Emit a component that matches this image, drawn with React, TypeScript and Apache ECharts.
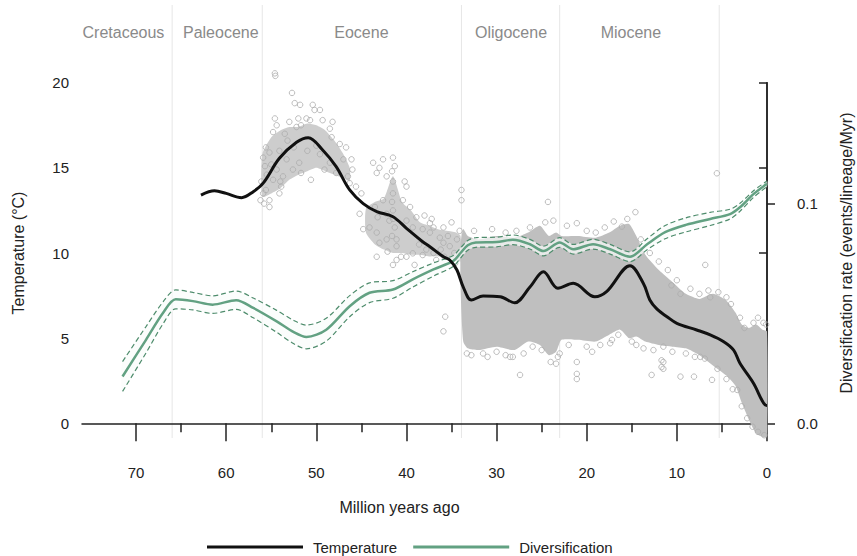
import { useEffect, useRef } from "react";
import * as echarts from "echarts";

// ---------- data ----------
const tempTime = [62.8, 61.3, 60.0, 58.3, 57.0, 55.9, 54.1, 52.2, 50.9, 49.3, 47.8, 46.3, 44.8, 43.3, 41.5, 40.0, 38.2, 37.4, 35.9, 35.2, 34.4, 33.7, 32.8, 31.5, 29.6, 28.0, 26.3, 24.8, 23.2, 21.5, 19.1, 17.8, 15.2, 13.7, 13.0, 12.2, 11.1, 10.0, 7.8, 6.3, 4.8, 3.7, 3.0, 1.5, 0.2, 0.0];
const tempValue = [13.4, 13.65, 13.5, 13.25, 13.6, 14.1, 15.56, 16.5, 16.77, 16.05, 15.07, 13.7, 12.9, 12.43, 12.13, 11.45, 10.66, 10.37, 9.78, 9.59, 9.0, 8.0, 7.24, 7.47, 7.43, 7.08, 8.0, 8.9, 7.93, 8.22, 7.43, 7.73, 9.25, 8.2, 7.24, 6.7, 6.26, 5.87, 5.48, 5.19, 4.79, 4.3, 3.52, 2.35, 1.07, 1.05];

const divTime = [71.5, 68.9, 67.0, 65.6, 63.7, 61.5, 58.9, 57.0, 54.4, 52.5, 51.1, 48.9, 46.3, 44.1, 41.5, 39.3, 37.0, 34.8, 34.0, 33.2, 32.3, 30.0, 28.2, 26.3, 24.8, 23.0, 21.5, 19.3, 17.4, 15.2, 13.3, 11.3, 9.0, 6.3, 4.1, 3.0, 1.5, 0.0];
const divMid = [0.0213, 0.038, 0.0503, 0.0564, 0.0556, 0.054, 0.056, 0.0525, 0.0464, 0.0415, 0.0393, 0.0426, 0.0533, 0.0594, 0.0609, 0.0655, 0.07, 0.0739, 0.0775, 0.081, 0.0823, 0.0825, 0.0835, 0.0815, 0.0784, 0.0823, 0.0792, 0.0815, 0.0792, 0.0758, 0.0815, 0.087, 0.0903, 0.093, 0.0952, 0.0983, 0.1043, 0.109];
const divLow = [0.0145, 0.032, 0.0453, 0.0521, 0.0516, 0.05, 0.0518, 0.048, 0.0414, 0.0362, 0.0339, 0.0374, 0.0485, 0.0549, 0.0569, 0.062, 0.067, 0.0714, 0.0752, 0.0788, 0.0801, 0.0803, 0.0813, 0.0793, 0.0762, 0.0801, 0.077, 0.0793, 0.077, 0.0736, 0.079, 0.084, 0.0871, 0.09, 0.093, 0.0965, 0.1028, 0.1077];
const divHigh = [0.0281, 0.044, 0.0553, 0.0607, 0.0596, 0.058, 0.0602, 0.057, 0.0514, 0.0468, 0.0447, 0.0478, 0.0581, 0.0639, 0.0649, 0.069, 0.073, 0.0764, 0.0798, 0.0832, 0.0845, 0.0847, 0.0857, 0.0837, 0.0806, 0.0845, 0.0814, 0.0837, 0.0814, 0.078, 0.084, 0.09, 0.0935, 0.096, 0.0974, 0.1001, 0.1058, 0.1103];

// dense part of the isotope cloud (Oligocene to present)
const denseTime = [34.0, 33.7, 33.2, 32, 30, 28, 26.5, 25.2, 24.2, 23.4, 22.8, 21, 19, 17.5, 16.3, 15.3, 14.5, 13.5, 12, 10.5, 9, 7.5, 6, 4.5, 3.5, 2.8, 2, 1.2, 0.5, 0];
const denseTop = [10.5, 11.4, 11.0, 10.8, 11.0, 10.9, 11.2, 11.6, 11.0, 11.2, 11.0, 11.0, 10.9, 11.2, 11.6, 11.7, 11.0, 9.9, 9.0, 8.3, 7.6, 7.3, 7.6, 7.2, 6.5, 5.8, 5.6, 5.8, 5.5, 5.4];
const denseBottom = [8.0, 4.8, 4.4, 4.3, 4.5, 4.3, 4.8, 4.6, 4.0, 4.2, 4.9, 4.9, 4.8, 5.2, 5.5, 5.0, 5.1, 4.8, 4.6, 4.5, 4.4, 4.0, 3.4, 2.8, 2.2, 1.2, 0.2, -0.6, -0.8, -0.8];

// Eocene cores
const coreATime = [56.0, 55.0, 54.0, 53.0, 52.0, 51.0, 50.0, 49.0, 48.0, 47.0, 46.3];
const coreATop = [15.8, 16.8, 17.2, 17.4, 17.4, 17.6, 17.5, 17.2, 16.6, 15.8, 15.0];
const coreABottom = [13.3, 13.5, 13.8, 14.3, 14.6, 14.8, 15.0, 14.8, 14.6, 14.4, 14.2];
const coreBTime = [44.5, 43.5, 42.5, 41.5, 40.5, 39.5, 38.5, 37.5, 36.5, 35.5, 34.5, 34.0];
const coreBTop = [12.6, 13.0, 13.2, 14.5, 13.0, 12.5, 11.8, 11.6, 11.4, 11.3, 11.2, 11.0];
const coreBBottom = [11.2, 10.5, 10.2, 10.0, 10.0, 9.9, 9.9, 9.8, 9.8, 9.7, 9.6, 9.5];

const isotopePoints: number[][] = [
  [54.6, 20.55], [54.55, 20.4], [52.7, 19.4], [52.4, 18.8], [51.8, 18.7], [50.4, 18.7], [50.2, 18.4], [49.6, 18.4],
  [51.1, 17.9], [50.7, 17.8], [49.3, 17.8], [48.2, 17.7], [54.6, 17.9], [54.4, 17.5], [54.8, 17.1], [53.0, 17.7],
  [52.2, 17.4], [51.7, 17.5], [48.5, 17.3], [48.3, 16.8], [47.4, 16.4], [46.7, 16.2], [55.6, 16.2], [55.9, 15.6],
  [55.7, 15.1], [55.2, 15.9], [54.1, 16.0], [53.3, 15.5], [54.4, 14.9], [53.7, 14.5], [54.8, 14.3], [55.9, 13.5],
  [55.6, 13.7], [55.2, 13.1], [55.2, 12.7], [54.1, 13.5], [53.9, 13.9], [52.6, 14.9], [51.9, 15.3], [51.7, 14.7],
  [50.6, 14.3], [49.6, 15.8], [49.1, 14.9], [48.5, 15.3], [47.8, 14.7], [47.0, 15.5], [46.1, 15.5], [46.5, 14.5],
  [46.0, 14.9], [46.3, 14.1], [45.6, 13.9], [45.0, 13.5], [45.2, 12.3], [44.8, 11.4], [44.1, 11.5], [43.7, 15.3],
  [43.0, 15.0], [42.6, 15.5], [43.3, 14.7], [41.5, 15.6], [41.3, 15.1], [42.2, 14.5], [43.5, 12.7], [42.6, 13.1],
  [42.2, 12.3], [41.9, 11.9], [43.2, 12.1], [43.3, 11.2], [43.0, 10.6], [42.2, 10.8], [41.5, 13.5], [41.5, 12.5],
  [41.3, 11.5], [41.1, 10.8], [41.1, 10.4], [40.4, 13.1], [39.6, 12.7], [40.0, 13.9], [40.2, 14.2], [40.0, 11.9],
  [39.3, 11.5], [38.9, 12.1], [38.2, 11.4], [37.4, 11.2], [37.0, 11.5], [35.9, 11.5], [36.3, 10.9], [35.9, 10.6],
  [35.2, 10.4], [34.4, 10.8], [34.1, 11.3], [33.9, 13.7], [33.9, 13.1],
  [43.3, 9.78], [42.1, 10.08], [41.1, 9.59], [40.6, 9.78], [40.0, 9.78], [39.3, 9.98], [39.1, 9.3], [38.2, 9.88],
  [36.7, 9.59], [35.8, 9.78],
  [56.1, 14.2], [55.5, 14.6], [55.0, 15.2], [54.0, 14.2], [53.2, 16.6], [52.5, 16.2], [51.0, 16.0], [50.0, 16.3],
  [53.5, 17.0], [52.0, 17.9], [56.2, 13.1], [55.8, 12.9],
  [41.6, 14.8], [41.5, 14.2], [41.6, 13.0], [41.5, 12.0], [41.6, 11.0], [41.5, 9.3],
  [38.6, 10.5], [37.8, 10.2], [37.0, 10.0], [36.2, 10.2], [35.4, 11.0], [34.7, 10.0], [34.6, 9.4], [38.0, 12.2],
  [37.2, 12.0], [35.0, 11.8], [35.7, 6.26], [35.9, 5.4], [37.4, 11.75],
  [24.3, 13.0], [14.6, 12.4], [5.56, 14.68], [27.4, 2.84], [28.5, 3.9], [28.2, 3.9], [21.1, 3.6], [21.1, 2.9],
  [21.1, 2.6], [23.0, 4.1], [23.2, 3.9], [19.4, 4.2], [12.8, 2.84], [11.5, 3.6], [11.5, 3.2], [33.3, 4.1], [31.5, 4.1],
  [26.3, 11.5], [24.6, 11.8], [23.7, 11.9], [22.2, 11.6], [21.1, 11.75], [17.0, 11.85], [16.1, 11.55],
  [6.85, 9.3], [10.6, 8.1], [9.6, 7.6], [6.5, 7.8], [5.4, 7.7], [6.3, 7.4], [1.5, 5.9], [0.4, 5.9], [9.6, 2.74],
  [8.1, 2.74], [13.7, 4.4], [12.6, 4.3], [11.5, 4.5], [11.7, 3.7], [11.7, 3.3], [7.4, 3.9], [6.9, 3.8], [6.1, 2.55],
  [17.2, 4.9], [17.4, 4.7], [3.3, 1.96],
  [32.5, 11.3], [30.5, 11.4], [29.0, 11.2], [27.8, 11.3], [20.0, 11.3], [19.0, 11.2], [18.0, 11.5], [15.5, 12.0],
  [14.0, 10.8], [13.0, 10.0], [12.0, 9.5], [11.0, 9.0], [10.0, 8.4], [8.5, 7.9], [7.5, 7.6], [4.5, 7.4], [4.0, 7.0],
  [3.0, 6.2], [2.5, 5.6], [1.0, 6.2], [0.1, 5.8],
  [32.8, 4.0], [31.0, 3.9], [30.0, 4.2], [29.0, 4.0], [27.0, 4.1], [26.0, 4.5], [25.0, 4.3], [24.0, 3.6], [23.4, 3.5],
  [22.0, 4.6], [20.0, 4.5], [18.5, 4.6], [16.5, 5.2], [15.0, 4.8], [14.5, 4.6], [10.5, 4.2], [9.0, 4.1], [8.0, 3.9],
  [5.5, 3.2], [4.5, 2.6], [3.8, 2.0], [2.8, 1.0], [2.2, 0.3], [1.6, -0.2], [1.0, -0.5], [0.3, -0.7],
];

const xMajorTicks = [0, 10, 20, 30, 40, 50, 60, 70];
const xMinorTicks = [5, 15, 25, 35, 45, 55, 65];
const rightTicks = [0, 0.1];
const boundaryTimes = [66, 56, 33.9, 23, 5.3];
const eraNames = ["Cretaceous", "Paleocene", "Eocene", "Oligocene", "Miocene"];
const eraLabelTime = [71.4, 60.6, 45.0, 28.4, 15.1];

const FONT = "'Liberation Sans', Arial, sans-serif";
const AXIS_COLOR = "#222";

function pairs(xs: number[], ys: number[]) {
  return xs.map((x, i) => [x, ys[i]]);
}

function band(name: string, xs: number[], top: number[], bottom: number[], fill: string, yAxisIndex: number, z: number) {
  return {
    type: "custom",
    name,
    xAxisIndex: 0,
    yAxisIndex,
    silent: true,
    clip: false,
    z,
    data: [[xs[0], top[0]]],
    renderItem: (_p: any, api: any) => {
      const pts: number[][] = [];
      for (let i = 0; i < xs.length; i++) pts.push(api.coord([xs[i], top[i]]));
      for (let i = xs.length - 1; i >= 0; i--) pts.push(api.coord([xs[i], bottom[i]]));
      return { type: "polygon", shape: { points: pts, smooth: 0.2 }, style: { fill } };
    },
  };
}

export default function App() {
  const ref = useRef<HTMLDivElement>(null);
  useEffect(() => {
    const chart = echarts.init(ref.current!, null, { renderer: "svg" });
    const xBase = {
      type: "value",
      min: 0,
      max: 76,
      inverse: true,
      position: "bottom",
      offset: 17,
      splitLine: { show: false },
    };
    const option: any = {
      animation: false,
      backgroundColor: "#fff",
      textStyle: { fontFamily: FONT },
      grid: { left: 82, right: 90, top: 82.7, bottom: 132.7, containLabel: false, outerBoundsMode: "none" },
      legend: {
        data: [
          { name: "Temperature", icon: "rect" },
          { name: "Diversification", icon: "rect" },
        ],
        left: 207,
        top: 538,
        padding: 0,
        itemWidth: 96,
        itemHeight: 3,
        itemGap: 16,
        selectedMode: false,
        textStyle: { fontSize: 15, color: "#222", fontFamily: FONT, lineHeight: 18, padding: [0, 0, 0, 5] },
      },
      xAxis: [
        {
          ...xBase,
          name: "Million years ago",
          nameLocation: "middle",
          nameGap: 59,
          nameTextStyle: { fontSize: 16, color: "#222", fontFamily: FONT, padding: [0, 50, 0, 0] },
          axisLine: { show: true, lineStyle: { color: AXIS_COLOR, width: 1.5 } },
          axisTick: { show: true, length: 18, customValues: xMajorTicks, lineStyle: { color: AXIS_COLOR, width: 1.5 } },
          axisLabel: { show: true, margin: 25, fontSize: 15, color: "#222", customValues: xMajorTicks, fontFamily: FONT },
        },
        {
          ...xBase,
          axisLine: { show: false },
          axisTick: { show: true, length: 9, customValues: xMinorTicks, lineStyle: { color: AXIS_COLOR, width: 1.5 } },
          axisLabel: { show: false },
        },
      ],
      yAxis: [
        {
          type: "value",
          min: 0,
          max: 20,
          interval: 5,
          position: "left",
          name: "Temperature (°C)",
          nameLocation: "middle",
          nameGap: 56,
          nameRotate: 90,
          nameTextStyle: { fontSize: 16, color: "#222", fontFamily: FONT },
          splitLine: { show: false },
          axisLine: { show: true, lineStyle: { color: AXIS_COLOR, width: 1.5 } },
          axisTick: { show: true, length: 8, lineStyle: { color: AXIS_COLOR, width: 1.5 } },
          axisLabel: { margin: 13, fontSize: 15, color: "#222", fontFamily: FONT },
        },
        {
          type: "value",
          min: 0,
          max: 0.155,
          interval: 0.1,
          position: "right",
          offset: 15,
          name: "Diversification rate (events/lineage/Myr)",
          nameLocation: "middle",
          nameGap: 56,
          nameRotate: 90,
          nameTextStyle: { fontSize: 16, color: "#222", fontFamily: FONT },
          splitLine: { show: false },
          axisLine: { show: true, lineStyle: { color: AXIS_COLOR, width: 1.5 } },
          axisTick: { show: true, length: 8, customValues: rightTicks, lineStyle: { color: AXIS_COLOR, width: 1.5 } },
          axisLabel: {
            margin: 15,
            fontSize: 15,
            color: "#222",
            fontFamily: FONT,
            customValues: rightTicks,
            formatter: (v: number) => v.toFixed(1),
          },
        },
      ],
      series: [
        band("coreA", coreATime, coreATop, coreABottom, "#cdcdcd", 0, 1),
        band("coreB", coreBTime, coreBTop, coreBBottom, "#cdcdcd", 0, 1),
        band("dense", denseTime, denseTop, denseBottom, "#bfbfbf", 0, 1),
        {
          type: "scatter",
          name: "isotopes",
          xAxisIndex: 0,
          yAxisIndex: 0,
          data: isotopePoints,
          symbol: "circle",
          symbolSize: 5.5,
          clip: false,
          silent: true,
          z: 2,
          itemStyle: { color: "rgba(0,0,0,0)", borderColor: "#adadad", borderWidth: 1 },
        },
        band("ci", divTime, divHigh, divLow, "rgba(250,252,251,0.7)", 1, 3),
        {
          type: "line",
          name: "divHigh",
          xAxisIndex: 0,
          yAxisIndex: 1,
          data: pairs(divTime, divHigh),
          smooth: 0.3,
          showSymbol: false,
          silent: true,
          z: 4,
          lineStyle: { color: "#4e8c6c", width: 1.2, type: [5, 3] },
        },
        {
          type: "line",
          name: "divLow",
          xAxisIndex: 0,
          yAxisIndex: 1,
          data: pairs(divTime, divLow),
          smooth: 0.3,
          showSymbol: false,
          silent: true,
          z: 4,
          lineStyle: { color: "#4e8c6c", width: 1.2, type: [5, 3] },
        },
        {
          type: "line",
          name: "Diversification",
          xAxisIndex: 0,
          yAxisIndex: 1,
          data: pairs(divTime, divMid),
          smooth: 0.3,
          showSymbol: false,
          silent: true,
          z: 5,
          color: "#62a182",
          lineStyle: { color: "#62a182", width: 2.5 },
        },
        {
          type: "line",
          name: "Temperature",
          xAxisIndex: 0,
          yAxisIndex: 0,
          data: pairs(tempTime, tempValue),
          smooth: 0.35,
          showSymbol: false,
          silent: true,
          z: 6,
          color: "#111",
          lineStyle: { color: "#111", width: 3 },
        },
      ],
    };
    chart.setOption(option);

    const px = (t: number) => chart.convertToPixel({ xAxisIndex: 0 }, t) as unknown as number;
    const graphics: any[] = [];
    boundaryTimes.forEach((t) => {
      const x = px(t);
      graphics.push({
        type: "line",
        silent: true,
        z: 0,
        shape: { x1: x, y1: 5, x2: x, y2: 438 },
        style: { stroke: "#e6e6e6", lineWidth: 1 },
      });
    });
    eraNames.forEach((n, i) => {
      graphics.push({
        type: "text",
        silent: true,
        z: 0,
        x: px(eraLabelTime[i]),
        y: 32,
        style: { text: n, fill: "#8a8a8a", fontSize: 16, fontFamily: FONT, align: "center", verticalAlign: "middle" },
      });
    });
    chart.setOption({ graphic: graphics });

    return () => chart.dispose();
  }, []);
  return (
    <div
      ref={ref}
      style={{ position: "fixed", left: 0, top: 0, width: 857, height: 556, background: "#fff" }}
    />
  );
}
